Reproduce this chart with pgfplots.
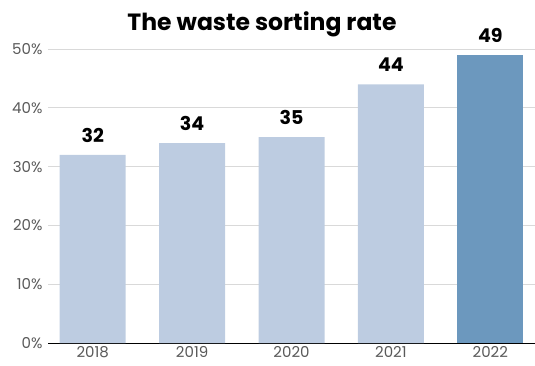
\documentclass[border=0pt]{standalone}
\usepackage{pgfplots}
\pgfplotsset{compat=1.18}
\usepackage{fontspec}
\setmainfont{Poppins}
\definecolor{lightbar}{HTML}{BDCCE1}
\definecolor{darkbar}{HTML}{6C98BE}
\definecolor{gridc}{HTML}{D9D9D9}
\definecolor{tickc}{HTML}{595959}
\begin{document}
\begin{tikzpicture}[x=1pt,y=1pt]
\useasboundingbox (0,0) rectangle (535,365);
\node[font=\fontsize{23.5}{27}\selectfont\bfseries] at (262,341) {The waste sorting rate};
\begin{axis}[
  at={(48pt,22pt)}, anchor=south west,
  scale only axis, width=487pt, height=294pt,
  xmin=-0.45, xmax=4.45, ymin=0, ymax=50,
  xtick={0,1,2,3,4}, xticklabels={2018,2019,2020,2021,2022},
  ytick={0,10,20,30,40,50},
  yticklabel={\pgfmathprintnumber{\tick}\%},
  /pgf/number format/assume math mode=true,
  ymajorgrids, grid style={gridc, line width=0.8pt},
  axis lines*=left,
  y axis line style={draw=none},
  x axis line style={black, line width=0.8pt, -},
  major tick length=0pt,
  tick label style={tickc, font=\fontsize{15}{17}\selectfont},
  yticklabel style={xshift=-2pt},
  xticklabel style={yshift=-1.5pt, inner sep=2pt},
  clip=false,
  bar width=66pt,
  nodes near coords,
  every node near coord/.append style={black, font=\fontsize{19}{21}\selectfont\bfseries, yshift=9pt},
]
\addplot[ybar, bar shift=0pt, fill=lightbar, draw=none] coordinates {(0,32) (1,34) (2,35) (3,44)};
\addplot[ybar, bar shift=0pt, fill=darkbar, draw=none] coordinates {(4,49)};
\end{axis}
\end{tikzpicture}
\end{document}
